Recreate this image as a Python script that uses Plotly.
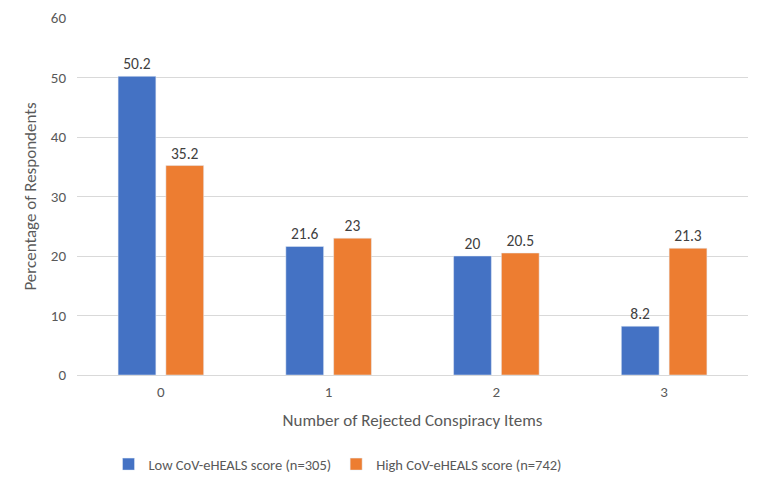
import plotly.graph_objects as go

categories = ["0", "1", "2", "3"]
low_vals = [50.2, 21.6, 20, 8.2]
high_vals = [35.2, 23, 20.5, 21.3]
low_name = "Low CoV-eHEALS score (n=305)"
high_name = "High CoV-eHEALS score (n=742)"

FONT = "Carlito, Lato, 'Open Sans', sans-serif"

fig = go.Figure()
fig.add_trace(go.Bar(x=categories, y=low_vals, name=low_name, marker_color="#4472C4",
                     text=[str(v) for v in low_vals], textposition="outside",
                     textfont=dict(size=15.5, color="#404040", family=FONT), cliponaxis=False))
fig.add_trace(go.Bar(x=categories, y=high_vals, name=high_name, marker_color="#ED7D31",
                     text=[str(v) for v in high_vals], textposition="outside",
                     textfont=dict(size=15.5, color="#404040", family=FONT), cliponaxis=False))

fig.update_layout(
    width=764, height=487,
    margin=dict(l=77, r=16, t=18, b=112, autoexpand=False),
    paper_bgcolor="white", plot_bgcolor="white",
    barmode="group", bargap=0.43, bargroupgap=0.21,
    font=dict(family=FONT, color="#595959", size=15),
    legend=dict(orientation="h", x=0.389, xanchor="center", y=-0.205, yanchor="top",
                font=dict(size=14.5, color="#595959")),
    showlegend=True,
)
fig.update_xaxes(title=dict(text="Number of Rejected Conspiracy Items", font=dict(size=17), standoff=14),
                 tickfont=dict(size=15), showline=False, ticks="", automargin=False,
                 ticklabelstandoff=6)
fig.update_yaxes(range=[0, 60], dtick=10, showgrid=True, gridcolor="#D9D9D9", gridwidth=1,
                 zeroline=True, zerolinecolor="#D9D9D9", zerolinewidth=1,
                 title=dict(text="Percentage of Respondents", font=dict(size=17), standoff=9),
                 tickfont=dict(size=15), ticks="", automargin=False, ticklabelstandoff=10)

fig.write_html("out.html", config={"displayModeBar": False},
               post_script="document.body.style.margin='0';")
